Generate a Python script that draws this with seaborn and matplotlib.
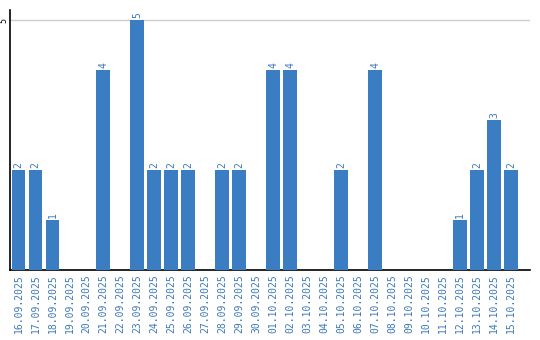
import matplotlib
matplotlib.use("Agg")
import matplotlib.pyplot as plt
import seaborn as sns
import pandas as pd

dates = ["16.09.2025", "17.09.2025", "18.09.2025", "19.09.2025", "20.09.2025",
         "21.09.2025", "22.09.2025", "23.09.2025", "24.09.2025", "25.09.2025",
         "26.09.2025", "27.09.2025", "28.09.2025", "29.09.2025", "30.09.2025",
         "01.10.2025", "02.10.2025", "03.10.2025", "04.10.2025", "05.10.2025",
         "06.10.2025", "07.10.2025", "08.10.2025", "09.10.2025", "10.10.2025",
         "11.10.2025", "12.10.2025", "13.10.2025", "14.10.2025", "15.10.2025"]
values = [2, 2, 1, 0, 0, 4, 0, 5, 2, 2,
          2, 0, 2, 2, 0, 4, 4, 0, 0, 2,
          0, 4, 0, 0, 0, 0, 1, 2, 3, 2]
y_ticks = [5]

BLUE = "#3a7dc2"
LABEL_BLUE = "#3c78b8"

sns.set_style("white")
plt.rcParams['font.family'] = ['DejaVu Sans Mono', 'DejaVu Sans']

df = pd.DataFrame({"date": dates, "value": values})

fig = plt.figure(figsize=(5.4, 3.4), dpi=100)
ax = fig.add_axes([10/540, 70/340, 520/540, 260/340])

sns.barplot(data=df, x="date", y="value", color=BLUE, width=0.82,
            saturation=1, linewidth=0, ax=ax, zorder=3)

ax.set_xlim(-0.5, 30.1)
ax.set_ylim(0, 5.2)
ax.set_yticks(y_ticks)
ax.set_yticklabels([str(t) for t in y_ticks], rotation=90, va="center",
                   fontsize=6, color="black")
ax.tick_params(axis="y", length=0, pad=1)
ax.tick_params(axis="x", length=0, pad=3)
ax.yaxis.grid(True, color="#cccccc", linewidth=1, zorder=0)
ax.set_axisbelow(True)

ax.set_xticks(range(len(dates)))
ax.set_xticklabels(dates, rotation=90, fontsize=7, color=LABEL_BLUE)
ax.set_xlabel("")
ax.set_ylabel("")

for s in ["top", "right"]:
    ax.spines[s].set_visible(False)
for s in ["left", "bottom"]:
    ax.spines[s].set_color("black")
    ax.spines[s].set_linewidth(1.2)

for i, v in enumerate(values):
    if v > 0:
        ax.annotate(str(v), (i, v), xytext=(0, 1.5), textcoords="offset points",
                    rotation=90, ha="center", va="bottom", fontsize=7,
                    color=LABEL_BLUE)

fig.savefig("out.png", dpi=100)
